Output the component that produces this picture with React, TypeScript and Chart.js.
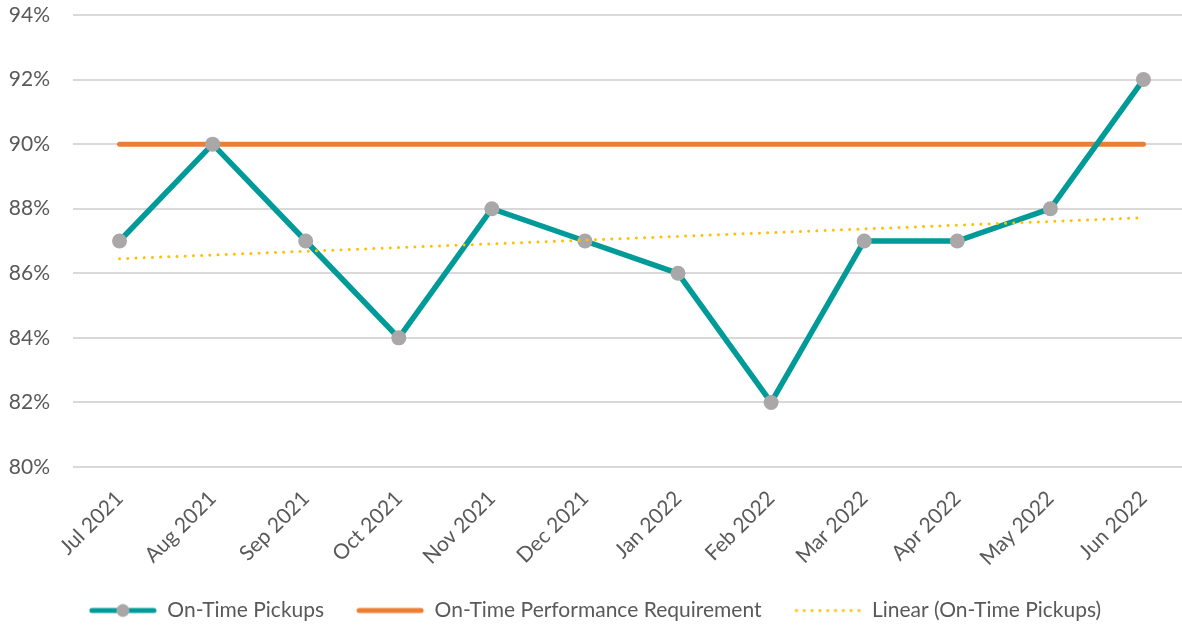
import React, { useEffect, useRef } from "react";
import { Chart, registerables } from "chart.js";

Chart.register(...registerables);

const months = [
  "Jul 2021", "Aug 2021", "Sep 2021", "Oct 2021", "Nov 2021", "Dec 2021",
  "Jan 2022", "Feb 2022", "Mar 2022", "Apr 2022", "May 2022", "Jun 2022",
];
const onTimePickups = [87, 90, 87, 84, 88, 87, 86, 82, 87, 87, 88, 92];
const requirement = [90, 90, 90, 90, 90, 90, 90, 90, 90, 90, 90, 90];
const trendStart = 86.45;
const trendEnd = 87.72;
const yTicks = [80, 82, 84, 86, 88, 90, 92, 94];

const TEAL = "#009B98";
const GRAY = "#A9A7A7";
const ORANGE = "#ED7D31";
const YELLOW = "#FFC000";
const TEXT = "#595959";
const FONT = "Lato, 'Open Sans', sans-serif";

function makeSymbol(kind: string): HTMLCanvasElement {
  const c = document.createElement("canvas");
  c.width = 68;
  c.height = 16;
  const ctx = c.getContext("2d")!;
  const y = 8;
  ctx.lineCap = "round";
  if (kind === "teal") {
    ctx.strokeStyle = TEAL;
    ctx.lineWidth = 5;
    ctx.beginPath();
    ctx.moveTo(3, y);
    ctx.lineTo(65, y);
    ctx.stroke();
    ctx.fillStyle = GRAY;
    ctx.beginPath();
    ctx.arc(34, y, 6.5, 0, Math.PI * 2);
    ctx.fill();
  } else if (kind === "orange") {
    ctx.strokeStyle = ORANGE;
    ctx.lineWidth = 5;
    ctx.beginPath();
    ctx.moveTo(3, y);
    ctx.lineTo(65, y);
    ctx.stroke();
  } else {
    ctx.fillStyle = YELLOW;
    for (let i = 0; i < 9; i++) {
      ctx.beginPath();
      ctx.arc(3 + i * 7.8, y, 1.6, 0, Math.PI * 2);
      ctx.fill();
    }
  }
  return c;
}

export default function App() {
  const ref = useRef<HTMLCanvasElement>(null);

  useEffect(() => {
    if (!ref.current) return;
    const symbols = [makeSymbol("teal"), makeSymbol("orange"), makeSymbol("yellow")];
    const chart = new Chart(ref.current, {
      type: "line",
      data: {
        labels: months,
        datasets: [
          {
            label: "On-Time Pickups",
            data: onTimePickups,
            borderColor: TEAL,
            borderWidth: 5.5,
            pointRadius: 7.5,
            pointBackgroundColor: GRAY,
            pointBorderWidth: 0,
            pointBorderColor: GRAY,
            tension: 0,
            order: 1,
          },
          {
            label: "On-Time Performance Requirement",
            data: requirement,
            borderColor: ORANGE,
            borderWidth: 5,
            borderCapStyle: "round",
            pointRadius: 0,
            order: 2,
          },
          {
            label: "Linear (On-Time Pickups)",
            data: [
              { x: months[0], y: trendStart },
              { x: months[months.length - 1], y: trendEnd },
            ] as any,
            borderColor: YELLOW,
            borderWidth: 3,
            borderDash: [0.01, 8.2],
            borderCapStyle: "round",
            pointRadius: 0,
            order: 0,
          },
        ],
      },
      options: {
        animation: false,
        responsive: false,
        maintainAspectRatio: false,
        layout: { autoPadding: false, padding: { top: 15, right: 0, left: 0, bottom: 0 } },
        plugins: {
          tooltip: { enabled: false },
          legend: {
            position: "bottom",
            labels: {
              usePointStyle: true,
              pointStyleWidth: 68,
              padding: 32,
              color: TEXT,
              font: { family: FONT, size: 21 },
              generateLabels: (ch: any) =>
                ch.data.datasets.map((ds: any, i: number) => ({
                  text: ds.label,
                  pointStyle: symbols[i],
                  fillStyle: "transparent",
                  strokeStyle: "transparent",
                  lineWidth: 0,
                  hidden: false,
                  datasetIndex: i,
                  fontColor: TEXT,
                })),
            },
          },
        },
        scales: {
          x: {
            type: "category",
            offset: true,
            grid: { display: false, drawTicks: false },
            border: { display: false },
            ticks: {
              color: TEXT,
              font: { family: FONT, size: 21 },
              minRotation: 45,
              maxRotation: 45,
              autoSkip: false,
              padding: 19,
            },
            afterFit: (scale: any) => {
              scale.height = 101;
              scale.paddingLeft = 0;
              scale.paddingRight = 0;
            },
          },
          y: {
            min: 80,
            max: 94,
            afterBuildTicks: (scale: any) => {
              scale.ticks = yTicks.map((v) => ({ value: v }));
            },
            grid: { color: "#D9D9D9", lineWidth: 2, drawTicks: false },
            border: { display: false },
            ticks: {
              color: TEXT,
              font: { family: FONT, size: 21 },
              padding: 23,
              callback: (v: any) => `${v}%`,
            },
            afterFit: (scale: any) => {
              scale.width = 73;
              scale.paddingTop = 0;
              scale.paddingBottom = 0;
            },
          },
        },
      },
    });
    return () => chart.destroy();
  }, []);

  return (
    <div
      style={{
        position: "fixed",
        left: 0,
        top: 0,
        width: 1182,
        height: 631,
        overflow: "hidden",
        background: "#fff",
      }}
    >
      <div style={{ width: 1190, height: 631 }}>
        <canvas ref={ref} width={1190} height={631} style={{ display: "block", width: 1190, height: 631 }} />
      </div>
    </div>
  );
}
